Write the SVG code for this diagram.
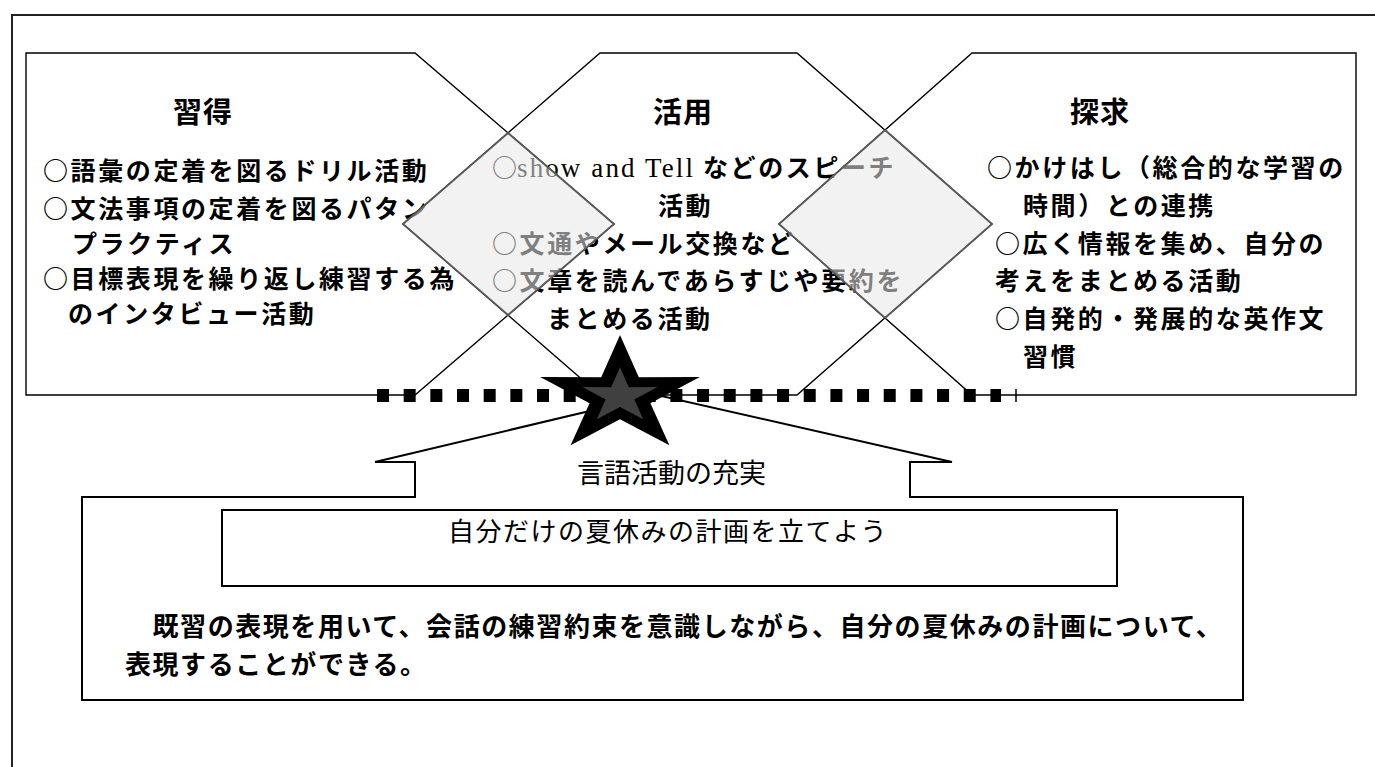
<svg xmlns="http://www.w3.org/2000/svg" width="1375" height="767" viewBox="0 0 1375 767">
<style>
.frame{fill:none;stroke:#222;stroke-width:2}
.shape{fill:none;stroke:#000;stroke-width:1.4;stroke-linejoin:miter}
.ovl{fill:#e7e7e7;fill-opacity:0.55;stroke:#5a5a5a;stroke-width:1.8}
.box{fill:none;stroke:#000;stroke-width:2}
.t{font-family:"Noto Sans CJK JP","Noto Sans CJK SC",sans-serif;font-weight:bold;font-size:25px;letter-spacing:2.6px;fill:#000}
.h{font-size:29px;letter-spacing:1px}
.lat{font-family:"Liberation Serif","Noto Sans CJK JP",serif;font-weight:normal;font-size:27px;letter-spacing:0}
.n{font-family:"Noto Sans CJK JP","Noto Sans CJK SC",sans-serif;font-weight:normal;fill:#000}
.b{font-family:"Noto Sans CJK JP","Noto Sans CJK SC",sans-serif;font-weight:bold;font-size:26px;letter-spacing:1.56px;fill:#000}
</style>
<rect class="frame" x="12" y="15" width="1380" height="800"/>

<g id="node-shuutoku">
<path class="shape" d="M26,53 H415 L614,224 L415,395 H26 Z"/>
<text class="t h" x="173" y="123">習得</text>
<text class="t" x="43" y="180">○語彙の定着を図るドリル活動</text>
<text class="t" x="43" y="218">○文法事項の定着を図るパタン</text>
<text class="t" x="72" y="253">プラクティス</text>
<text class="t" x="43" y="288">○目標表現を繰り返し練習する為</text>
<text class="t" x="68" y="323">のインタビュー活動</text>
</g>

<g id="node-katsuyou">
<path class="shape" d="M600,53 H797 L992,224 L797,395 H600 L403,224 Z"/>
<text class="t h" x="653" y="123">活用</text>
<text class="t" x="492" y="177">○</text>
<text class="t lat" x="517" y="177" textLength="176" lengthAdjust="spacing">show and Tell</text>
<text class="t" x="703" y="177">などのスピーチ</text>
<text class="t" x="658" y="215">活動</text>
<text class="t" x="492" y="253">○文通やメール交換など</text>
<text class="t" x="492" y="290">○文章を読んであらすじや要約を</text>
<text class="t" x="547" y="328">まとめる活動</text>
</g>

<g id="node-tankyuu">
<path class="shape" d="M972,53 H1356 V395 H972 L779,224 Z"/>
<text class="t h" x="1070" y="123">探求</text>
<text class="t" x="987" y="177">○かけはし（総合的な学習の</text>
<text class="t" x="1023" y="215">時間）との連携</text>
<text class="t" x="995" y="253">○広く情報を集め、自分の</text>
<text class="t" x="995" y="290">考えをまとめる活動</text>
<text class="t" x="995" y="328">○自発的・発展的な英作文</text>
<text class="t" x="1023" y="366">習慣</text>
</g>

<g id="node-overlap-1">
<polygon class="ovl" points="508,133 614,224 508,315 403,224"/>
</g>
<g id="node-overlap-2">
<polygon class="ovl" points="885,130 992,224 885,318 779,224"/>
</g>

<g id="connectors">
<line x1="377" y1="395.5" x2="1001" y2="395.5" stroke="#000" stroke-width="13" stroke-dasharray="12 14.67"/>
<line x1="1016" y1="389" x2="1016" y2="402" stroke="#000" stroke-width="1.5"/>
</g>

<g id="node-callout">
<path class="box" d="M82,497 H415 V462 H375 L657,395 L952,462 H910 V497 H1243 V700 H82 Z"/>
<text class="n" x="577" y="483" font-size="27" letter-spacing="0">言語活動の充実</text>
<rect class="box" x="222" y="510" width="895" height="76"/>
<text class="n" x="448" y="541" font-size="26" letter-spacing="1.5">自分だけの夏休みの計画を立てよう</text>
<text class="b" x="125" y="636">　既習の表現を用いて、会話の練習約束を意識しながら、自分の夏休みの計画について、</text>
<text class="b" x="125" y="674">表現することができる。</text>
</g>

<g id="node-star">
<polygon fill="#000" points="620,335 638.8,377.2 699.9,377.1 650.4,403.2 669.4,445.3 620,419.2 570.6,445.3 589.6,403.2 540.1,377.1 601.2,377.2"/>
<polygon fill="#404040" points="620,367.3 628.8,387.2 657.6,387.1 634.3,399.4 643.2,419.2 620,406.9 596.8,419.2 605.7,399.4 582.4,387.1 611.2,387.2"/>
</g>
</svg>
